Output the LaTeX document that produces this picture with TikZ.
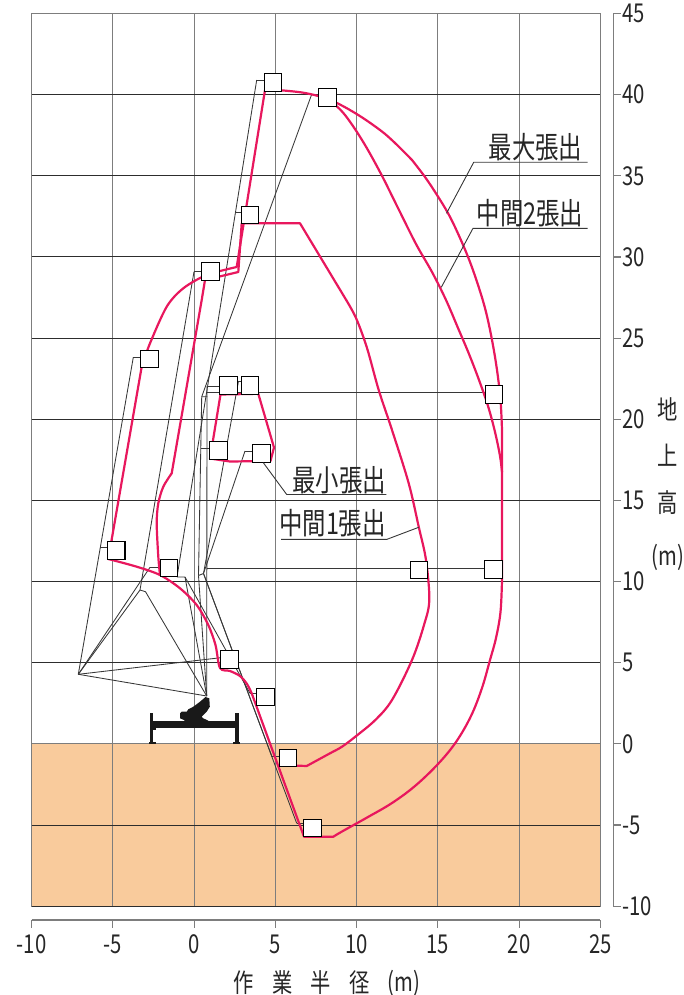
\documentclass[tikz,border=0pt]{standalone}
\usepackage{fontspec}
\setmainfont{Noto Sans CJK JP}[FakeStretch=0.78]
\definecolor{pinkc}{RGB}{232,23,93}
\definecolor{groundc}{RGB}{249,203,156}
\definecolor{gridv}{RGB}{125,125,125}
\definecolor{gridh}{RGB}{45,45,45}
\definecolor{boomc}{RGB}{55,55,55}
\begin{document}
\begin{tikzpicture}[x=1pt,y=-1pt,
  pk/.style={draw=pinkc, line width=2.2pt, line join=round, line cap=round},
  bm/.style={draw=boomc, line width=0.85pt, line join=round},
  bx/.style={draw=black, fill=white, line width=1.1pt, minimum width=16.5pt, minimum height=16.5pt, inner sep=0pt},
  ld/.style={draw=boomc, line width=0.9pt},
  tick/.style={font=\fontsize{26}{26}\selectfont, inner sep=0pt, text=black!85},
  lab/.style={font=\fontsize{30}{30}\selectfont, inner sep=0pt, text=black!85},
  ttl/.style={font=\fontsize{26}{26}\selectfont, inner sep=0pt, text=black!85}]
\useasboundingbox (0,0) rectangle (684,995);
% ground
\fill[groundc] (31.7,743.9) rectangle (600.3,906.8);
% grid
\foreach \v in {-10,-5,...,25}
  \draw[gridv, line width=1.1pt] ({31.7+(\v+10)*16.246},13.5) -- ({31.7+(\v+10)*16.246},906.8);
\foreach \v in {40,35,...,-10}
  \draw[gridh, line width=1pt] (31.7,{13.5+(45-\v)*16.23}) -- (600.3,{13.5+(45-\v)*16.23});
\draw[gridv, line width=1.1pt] (31.7,13.5) -- (600.3,13.5);
\draw[gridv, line width=1.1pt] (31.7,743.9) -- (600.3,743.9);
% right axis
\draw[gridv, line width=1.1pt] (613.7,13.5) -- (613.7,906.8);
\foreach \v [count=\i] in {45,40,...,-10}{
  \draw[gridv, line width=1.1pt] (613.7,{13.5+(45-\v)*16.23}) -- (620.5,{13.5+(45-\v)*16.23});
  \node[tick, anchor=west] (ry\i) at (622,{13.5+(45-\v)*16.23}) {\v};
}
% bottom axis
\draw[gridv, line width=1.1pt] (31.7,920) -- (600.3,920);
\foreach \v [count=\i] in {-10,-5,...,25}{
  \draw[gridv, line width=1.1pt] ({31.7+(\v+10)*16.246},920) -- ({31.7+(\v+10)*16.246},927.5);
  \node[tick] (bx\i) at ({31.7+(\v+10)*16.246},944) {\v};
}
% axis titles
\node[ttl] (tA) at (668,409) {地};
\node[ttl] (tB) at (668,455) {上};
\node[ttl] (tC) at (668,503) {高};
\node[ttl] (tD) at (668,557) {(m)};
\node[ttl] (xA) at (244,983) {作};
\node[ttl] (xB) at (283,983) {業};
\node[ttl] (xC) at (321,983) {半};
\node[ttl] (xD) at (359.5,983) {径};
\node[ttl] (xE) at (404,983) {(m)};
% boom points
\coordinate (P) at (206.7,696);
\coordinate (L) at (78.3,674.3);
\coordinate (K2) at (140,590); \coordinate (K2r) at (145.5,591.7);
\coordinate (K3) at (177,577); \coordinate (K3r) at (185,577);
\coordinate (K4) at (198.5,575.5); \coordinate (K4r) at (203.5,573.5);
\coordinate (K5) at (201.7,396.7); \coordinate (K5r) at (207.3,396.7);
\coordinate (V1) at (207,386);
\coordinate (H1) at (207,392.5);
\coordinate (V2) at (206.7,568.3);
\coordinate (t1) at (256.7,80);
\coordinate (t2) at (311.7,94.3);
\coordinate (t3) at (235.3,212.7);
\coordinate (t4) at (194,271.7);
\coordinate (t5) at (133.3,357.3);
\coordinate (t7) at (238.5,381);
\coordinate (t9) at (201.4,448.3);
\coordinate (t10) at (245,451);
\coordinate (t11) at (100.3,547.3);
\coordinate (t12) at (150,567.3);
\coordinate (t16) at (250,693.3);
\coordinate (t17) at (272,756.7);
\coordinate (t18) at (296.7,823.3);
% boxes (platforms)
\node[bx] (s1) at (273,82.5) {};
\node[bx] (s2) at (327.7,97.7) {};
\node[bx] (s3) at (250,215) {};
\node[bx] (s4) at (210.7,271.3) {};
\node[bx] (s5) at (149.7,359) {};
\node[bx] (s6) at (228.3,385.5) {};
\node[bx] (s7) at (250,385.3) {};
\node[bx] (s8) at (494,394.3) {};
\node[bx] (s9) at (218.3,450.3) {};
\node[bx] (s10) at (261.7,453.3) {};
\node[bx] (s11) at (116.2,550.5) {};
\node[bx] (s12) at (169,568) {};
\node[bx] (s13) at (419,570) {};
\node[bx] (s14) at (493.3,569.7) {};
\node[bx] (s15) at (229.5,659.7) {};
\node[bx] (s16) at (265.3,697) {};
\node[bx] (s17) at (288,758) {};
\node[bx] (s18) at (312.7,828) {};
% boom lines
\path[bm] (L) -- (P);
\path[bm] (L) -- ([yshift=2pt]s15.west);
\path[bm] (L) -- (t5);
\path[bm] (L) -- (t12);
\path[bm] (L) -- (K2);
\path[bm] (K2) -- (K2r) -- (P);
\path[bm] (K2) -- (t4);
\path[bm] (K3) -- (t1);
\path[bm] (K3) -- (K3r) -- (P);
\path[bm] (K3r) -- (t16);
\path[bm] (K4) -- (K4r);
\path[bm] (K4) -- (P);
\path[bm] (K4) -- (K5) -- (K5r);
\path[bm] (K5) -- (t2);
\path[bm] (K4r) -- (t10);
\path[bm] (K4r) -- (t7);
\path[bm] (K4r) -- (t17);
\path[bm] (K4r) -- (t18);
\path[bm] (P) -- (V1);
\path[bm] (H1) -- (H1 -| s8.west);
\path[bm] (V2) -- (V2 -| s14.west);
% stubs
\path[bm] (t1) -- (t1 -| s1.west);
\path[bm] (t2) -- (t2 -| s2.west);
\path[bm] (t3) -- (t3 -| s3.west);
\path[bm] (t4) -- (t4 -| s4.west);
\path[bm] (t5) -- (t5 -| s5.west);
\path[bm] (V1) -- (V1 -| s6.west);
\path[bm] (t7) -- (t7 -| s7.west);
\path[bm] (t9) -- (t9 -| s9.west);
\path[bm] (t10) -- (t10 -| s10.west);
\path[bm] (t11) -- (t11 -| s11.west);
\path[bm] (t12) -- (t12 -| s12.west);
\path[bm] (t16) -- (t16 -| s16.west);
\path[bm] (t17) -- (t17 -| s17.west);
\path[bm] (t18) -- (t18 -| s18.west);
% truck
\fill[black!90] (150,721.3) rectangle (238.3,728.3);
\fill[black!90] (150.3,713) rectangle (152.8,743.5);
\fill[black!90] (149.5,721) rectangle (155.5,730);
\fill[black!90] (148.5,742) rectangle (156,744);
\fill[black!90] (234.8,713) rectangle (238.6,743.5);
\fill[black!90] (233,742) rectangle (240,744);
\fill[black!90] (180,713.3) -- (181.7,711.7) -- (186.7,711.7) -- (188.3,709.3) -- (193.3,706.7) -- (200,701.7) -- (205.5,697) -- (209.3,698.3) -- (209.8,706.7) -- (206.7,711.7) -- (201.7,716.7) -- (203.3,718.3) -- (208.3,720.7) -- (208.3,723.3) -- (186.7,723.3) -- (184,720) -- (180,718.3) -- cycle;
% envelopes
\draw[pk] (265,90) -- (277,90)
  -- plot[smooth,tension=0.6] coordinates {(277,90)(305,93)(330,100)(355,113)(380,130)(395,143)(412,160)}
  -- plot[smooth,tension=0.6] coordinates {(412,160)(425,177)(437,195)(449,215)(460,238)(470,262)(479,288)(486,312)(492,340)(497,370)(500.5,400)(502,430)}
  -- (502,580)
  -- plot[smooth,tension=0.6] coordinates {(502,580)(500.5,612)(496,638)(490,660)(482,688)(471,716)(456,742)(438,764)(415,786)(392,803)(368,817)(342,831.5)(333.3,836.7)}
  -- (304,836.7) -- (251.7,693.3)
  -- plot[smooth,tension=0.5] coordinates {(251.7,693.3)(247,684)(240,676)(230,671)(220,668)(215.5,645)(208.3,625)(196.7,605)(180,588.3)(160,575)(136.7,566.7)(108.3,559)}
  -- (141.7,366.7)
  -- plot[smooth,tension=0.5] coordinates {(141.7,366.7)(150,343.3)(166.7,306.7)(183.3,288.3)(206.7,275)(236.7,267)}
  -- cycle;
\draw[pk] plot[smooth,tension=0.6] coordinates {(333.3,103.3)(345,115)(362,140)(380,172)(398,208)(416,244)(432,272)(446,300)(458,328)(469,354)(479,380)(488,406)(495,432)(500,456)(502,472)};
\draw[pk] (280,765) -- (306.7,766)
  -- plot[smooth,tension=0.55] coordinates {(306.7,766)(330,753.3)(342,746.7)(355.3,736.7)(375.3,720)(392,700)(412,660)(424,625)(429.3,600)(426,560)(418.7,526.7)(408.7,483.3)(392,430)(378.7,390)(367,348)(356,318)(345,298)}
  -- (300,223.3) -- (241.7,223.3) -- (238.3,272) -- (205,280) -- (201.7,300) -- (171.7,473.3)
  -- plot[smooth,tension=0.5] coordinates {(171.7,473.3)(163.3,486.7)(158.3,503.3)(156.7,523.3)(158.3,556.7)(160,575)};
\draw[pk] (220.5,394.5) -- (258.3,393.8) -- (274,447.5) -- (270.5,461) -- (230,461.5) -- (210,458.5) -- cycle;
% boxes on top
\foreach \b in {s1,s2,s3,s4,s5,s6,s7,s8,s9,s10,s11,s12,s13,s14,s15,s16,s17,s18}
  \draw[black, fill=white, line width=1.1pt] (\b.south west) rectangle (\b.north east);
% labels
\node[lab] (lmax) at (535.5,147.5) {最大張出};
\node[lab] (lm2) at (530,213) {中間2張出};
\node[lab] (lmin) at (339,480.5) {最小張出};
\node[lab] (lm1) at (332.5,523.5) {中間1張出};
\coordinate (u1a) at (473.7,162.3); \coordinate (u1b) at (587.7,162.3); \coordinate (e1) at (446.5,213.3);
\coordinate (u2a) at (473,228.3); \coordinate (u2b) at (587.7,228.3); \coordinate (e2) at (441.3,287.3);
\coordinate (u3a) at (286.7,494.5); \coordinate (u3b) at (386.3,494.5); \coordinate (e3) at (263.3,462.7);
\coordinate (u4a) at (281,539.3); \coordinate (u4b) at (387,539.3); \coordinate (e4) at (418.7,527.3);
\draw[ld] (e1) -- (u1a) -- (u1b);
\draw[ld] (e2) -- (u2a) -- (u2b);
\draw[ld] (e3) -- (u3a) -- (u3b);
\draw[ld] (u4a) -- (u4b) -- (e4);
\end{tikzpicture}
\end{document}
